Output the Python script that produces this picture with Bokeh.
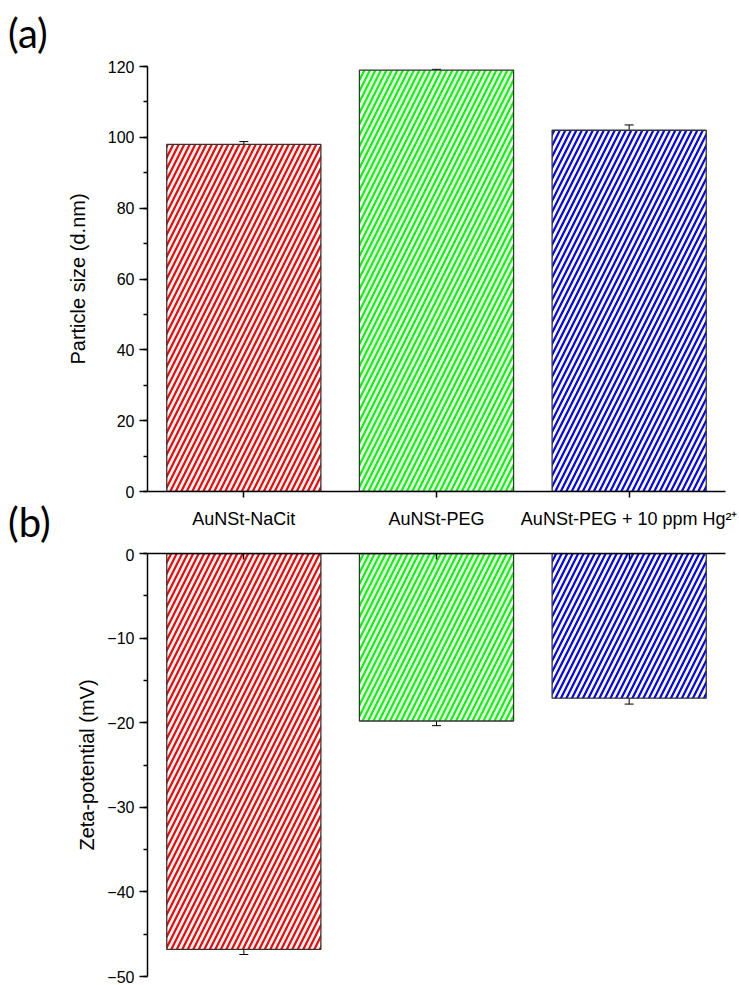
from bokeh.plotting import figure
from bokeh.models import (Range1d, FactorRange, ColumnDataSource, Whisker, TeeHead,
                          SingleIntervalTicker, Div)
from bokeh.layouts import column, row
from bokeh.embed import file_html
from bokeh.resources import INLINE

# Samples and measured values
categories = ["AuNSt-NaCit", "AuNSt-PEG", "AuNSt-PEG + 10 ppm Hg²⁺"]
bar_colors = ["#FF0000", "#00FF00", "#0000FF"]
size_nm = [98.0, 119.0, 102.0]
size_err = [0.8, 0.2, 1.5]
zeta_mV = [-46.8, -19.8, -17.1]
zeta_err = [0.6, 0.55, 0.7]

TICK_FONT = "Liberation Sans"
PANEL_FONT = "Lato"
GUTTER = 60          # width of the column holding the panel letters
FIG_W = 739 - GUTTER


def source(values, errors):
    return ColumnDataSource(dict(
        cat=categories,
        val=values,
        upper=[v + e for v, e in zip(values, errors)],
        lower=[v - e for v, e in zip(values, errors)],
        color=bar_colors,
    ))


def style_axes(p, ylabel, interval, title_standoff):
    p.xgrid.visible = False
    p.ygrid.visible = False
    p.outline_line_color = None
    for ax in p.xaxis + p.yaxis:
        ax.axis_line_color = "black"
        ax.axis_line_width = 1.5
        ax.major_tick_line_color = "black"
        ax.major_tick_line_width = 1.5
        ax.minor_tick_line_color = "black"
        ax.minor_tick_line_width = 1.5
        ax.major_label_text_font = TICK_FONT
        ax.major_label_text_font_size = "16px"
        ax.major_label_text_color = "black"
    yax = p.yaxis[0]
    yax.ticker = SingleIntervalTicker(interval=interval, num_minor_ticks=2)
    yax.major_tick_in = 0
    yax.major_tick_out = 8
    yax.minor_tick_in = 0
    yax.minor_tick_out = 4
    yax.major_label_standoff = 5
    yax.axis_label = ylabel
    yax.axis_label_text_font = TICK_FONT
    yax.axis_label_text_font_size = "20px"
    yax.axis_label_text_font_style = "normal"
    yax.axis_label_text_color = "black"
    yax.axis_label_standoff = title_standoff
    p.xaxis[0].minor_tick_line_color = None


def bars(p, src):
    # white bars with coloured "/" hatching, thin dark outline, error whiskers on top
    p.vbar(x="cat", top="val", width=0.8, source=src,
           fill_color="white", hatch_pattern="/", hatch_color="color",
           hatch_scale=11, hatch_weight=2.2,
           line_color="#333333", line_width=1.3)
    p.add_layout(Whisker(base="cat", upper="upper", lower="lower", source=src,
                         line_color="black", line_width=1,
                         upper_head=TeeHead(size=9, line_color="black", line_width=1),
                         lower_head=TeeHead(size=9, line_color="black", line_width=1)))


def panel_letter(letter, height, top):
    return Div(text=f'<div style="padding:{top}px 0 0 8px;font-family:{PANEL_FONT};'
                    f'font-size:40px;line-height:40px;color:black">{letter}</div>',
               width=GUTTER, height=height, margin=0)


# (a) particle size
p1 = figure(width=FIG_W, height=548,
            x_range=FactorRange(*categories, range_padding=0),
            y_range=Range1d(0, 120),
            output_backend="svg", toolbar_location=None,
            min_border_left=147 - GUTTER, min_border_right=14,
            min_border_top=66, min_border_bottom=57)
bars(p1, source(size_nm, size_err))
style_axes(p1, "Particle size (d.nm)", 20, 16)
p1.xaxis[0].major_tick_in = 0
p1.xaxis[0].major_tick_out = 6
p1.xaxis[0].major_label_standoff = 11
p1.xaxis[0].major_label_text_font_size = "18px"

# (b) zeta potential: zero line on top with inward category ticks, no labels
p2 = figure(width=FIG_W, height=437,
            x_range=FactorRange(*categories, range_padding=0),
            y_range=Range1d(-50, 0), x_axis_location="above",
            output_backend="svg", toolbar_location=None,
            min_border_left=147 - GUTTER, min_border_right=14,
            min_border_top=5, min_border_bottom=9)
bars(p2, source(zeta_mV, zeta_err))
style_axes(p2, "Zeta-potential (mV)", 10, 6)
p2.xaxis[0].major_tick_in = 6
p2.xaxis[0].major_tick_out = 0
p2.xaxis[0].major_label_standoff = 0
p2.xaxis[0].major_label_text_font_size = "0px"
p2.xaxis[0].major_label_overrides = {c: "" for c in categories}

letters = column(panel_letter("(a)", 480, 13), panel_letter("(b)", 505, 22), spacing=0)
layout = row(letters, column(p1, p2, spacing=0), spacing=0)
open("out.html", "w").write(file_html(layout, INLINE))
